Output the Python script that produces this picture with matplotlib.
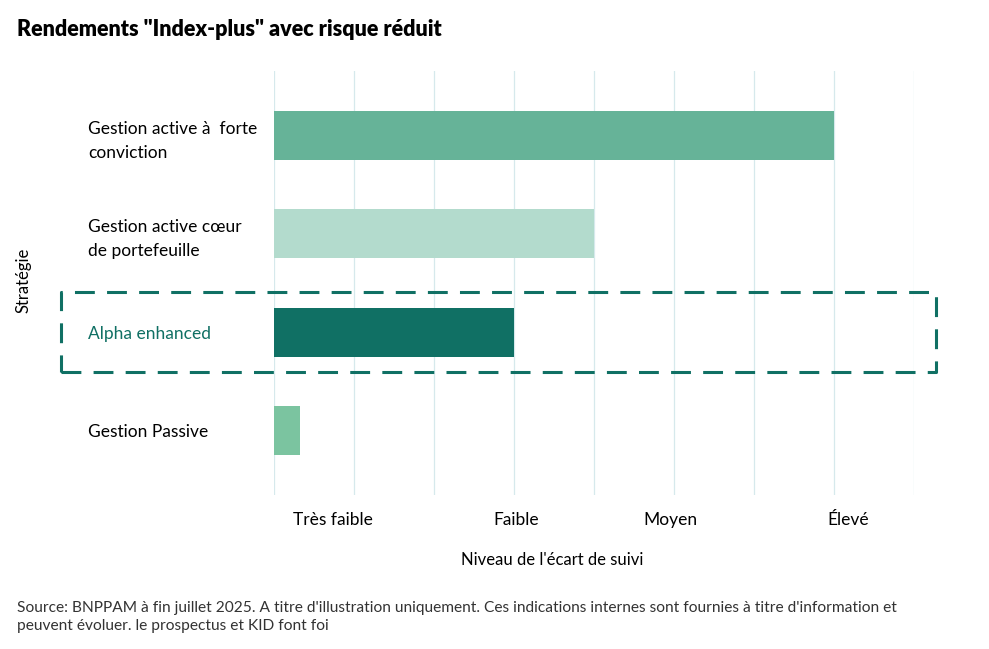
import numpy as np
import matplotlib
matplotlib.use("Agg")
import matplotlib.pyplot as plt
import matplotlib.transforms as mtransforms
from matplotlib.patches import Rectangle

plt.rcParams['font.family'] = ['Lato', 'DejaVu Sans']

strategies = ["Gestion active à  forte\nconviction",
              "Gestion active cœur\nde portefeuille",
              "Alpha enhanced",
              "Gestion Passive"]
values = [7.0, 4.0, 3.0, 0.33]
colors = ["#66b398", "#b3dbcd", "#107064", "#7bc4a0"]
highlight = 2

tick_pos = [0.74, 3.03, 4.96, 7.18]
tick_labels = ["Très faible", "Faible", "Moyen", "Élevé"]

dark = "#107064"

fig = plt.figure(figsize=(9.89, 6.49), dpi=100)
ax = fig.add_axes([274/989, 1-495/649, 640/989, 424/649])

y = np.arange(len(strategies))
ax.barh(y, values, height=0.5, color=colors, zorder=2)

ax.set_xlim(0, 8)
ax.set_ylim(3.66, -0.66)
ax.set_xticks(np.arange(0, 9), minor=True)
ax.grid(True, which="minor", axis="x", color="#d6e9ec", lw=0.9, zorder=0)
ax.set_xticks(tick_pos)
ax.set_xticklabels(tick_labels, fontsize=12.5)
ax.tick_params(axis="x", which="both", length=0, pad=12)
ax.set_yticks(y)
ax.set_yticklabels(strategies, fontsize=12.5, ha="left", linespacing=1.6)
ax.tick_params(axis="y", length=0, pad=134)
ax.get_yticklabels()[highlight].set_color(dark)
for s in ax.spines.values():
    s.set_visible(False)

ax.set_xlabel("Niveau de l'écart de suivi", fontsize=12, labelpad=18)
ax.xaxis.set_label_coords(0.434, -0.135)
fig.text(24/989, 1-280/649, "Stratégie", rotation=90, ha="center", va="center", fontsize=12)

# dashed box around highlighted strategy
trans = mtransforms.blended_transform_factory(ax.transAxes, ax.transData)
box = Rectangle((-0.333, highlight + 0.41), 1.367, -0.82, transform=trans,
                fill=False, ec=dark, lw=2.2, ls=(0, (6.5, 4)), clip_on=False,
                joinstyle="round", zorder=3)
ax.add_patch(box)

fig.text(17/989, 1-30/649, 'Rendements "Index-plus" avec risque réduit',
         fontsize=15.5, fontweight="heavy", va="center", ha="left")
fig.text(17/989, 1-617/649,
         "Source: BNPPAM à fin juillet 2025. A titre d'illustration uniquement. Ces indications internes sont fournies à titre d'information et\n"
         "peuvent évoluer. le prospectus et KID font foi",
         fontsize=11.2, va="center", ha="left", color="#333333", linespacing=1.3)

fig.savefig("out.png", dpi=100)
